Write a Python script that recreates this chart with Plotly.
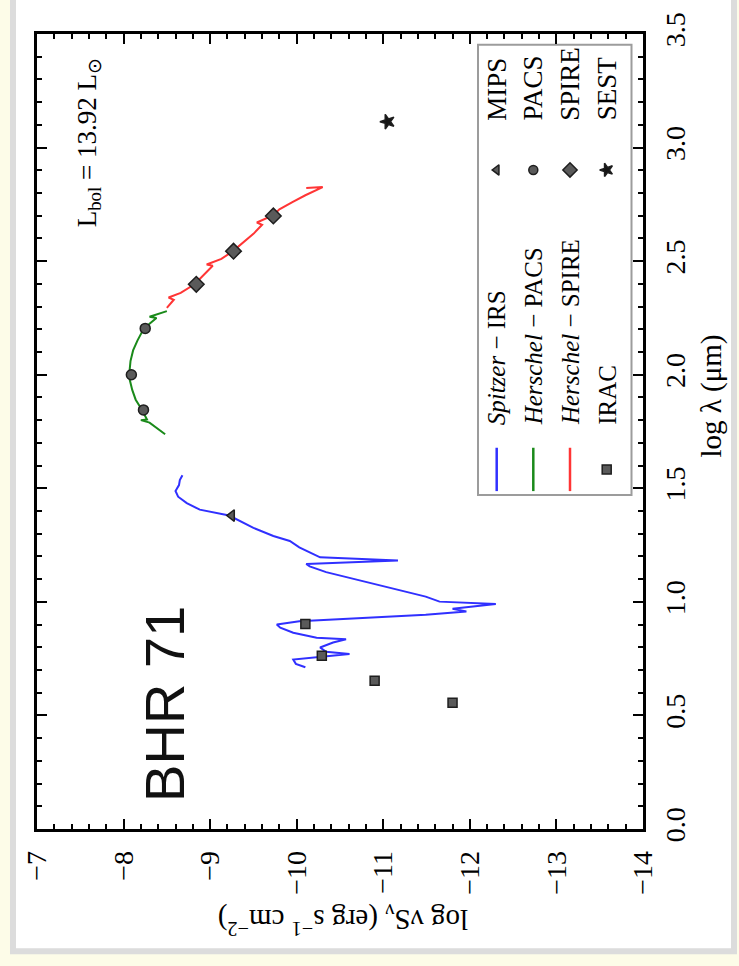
import plotly.graph_objects as go

# ---- spectral energy distribution of BHR 71 ----
# Spitzer IRS spectrum: log wavelength (um) and log nu*S_nu (erg s^-1 cm^-2)
irs_loglam = [0.712, 0.727, 0.746, 0.755, 0.770, 0.780, 0.799, 0.821, 0.835, 0.842,
              0.864, 0.886, 0.900, 0.915, 0.929, 0.943, 0.958, 0.970, 0.991, 1.001,
              1.023, 1.037, 1.059, 1.081, 1.102, 1.131, 1.156, 1.167, 1.182, 1.196,
              1.218, 1.240, 1.268, 1.290, 1.326, 1.362, 1.380, 1.406, 1.435, 1.463,
              1.488, 1.514, 1.536, 1.557]
irs_flux = [-10.10, -9.99, -9.96, -10.19, -10.61, -10.34, -10.27, -10.42, -10.57, -10.23,
            -9.96, -9.81, -9.77, -10.03, -10.80, -11.49, -11.96, -11.80, -12.30, -11.65,
            -11.49, -11.34, -11.11, -10.88, -10.65, -10.34, -10.15, -10.11, -11.17, -10.27,
            -10.15, -10.03, -9.92, -9.73, -9.50, -9.30, -9.22, -8.88, -8.73, -8.63,
            -8.60, -8.64, -8.65, -8.68]

# Herschel PACS spectrum
pacs_loglam = [1.738, 1.760, 1.789, 1.800, 1.803, 1.847, 1.890, 1.933, 1.980, 2.020,
               2.060, 2.107, 2.150, 2.193, 2.225, 2.250, 2.255, 2.280]
pacs_flux = [-8.48, -8.40, -8.30, -8.20, -8.27, -8.21, -8.14, -8.10, -8.07, -8.07,
             -8.08, -8.11, -8.16, -8.22, -8.30, -8.38, -8.30, -8.50]

# Herschel SPIRE spectrum
spire_loglam = [2.294, 2.330, 2.340, 2.360, 2.398, 2.440, 2.480, 2.485, 2.510, 2.543,
                2.580, 2.620, 2.660, 2.670, 2.702, 2.728, 2.760, 2.790, 2.826, 2.822]
spire_flux = [-8.50, -8.58, -8.52, -8.66, -8.82, -8.93, -9.03, -8.96, -9.13, -9.26,
              -9.38, -9.50, -9.60, -9.54, -9.73, -9.80, -9.95, -10.10, -10.30, -10.11]

# Photometry
irac_loglam = [0.556, 0.653, 0.763, 0.903]
irac_flux = [-11.80, -10.90, -10.29, -10.10]
mips_loglam = [1.380]
mips_flux = [-9.25]
pacs_phot_loglam = [1.845, 2.000, 2.204]
pacs_phot_flux = [-8.23, -8.09, -8.25]
spire_phot_loglam = [2.398, 2.544, 2.699]
spire_phot_flux = [-8.84, -9.27, -9.73]
sest_loglam = [3.114]
sest_flux = [-11.05]

lbol_text = "L<sub>bol</sub> = 13.92 L<sub>⊙</sub>"
source_name = "BHR 71"
flux_ticks = [-7, -8, -9, -10, -11, -12, -13, -14]
lam_ticks = [0.0, 0.5, 1.0, 1.5, 2.0, 2.5, 3.0, 3.5]

# ---- page geometry (pixels) ----
W, H = 739, 966
L, R, T, B = 37, 643, 22, 829


def px(x):
    return (x - L) / (R - L)


def py(y):
    return (B - y) / (B - T)


SERIF = "Liberation Serif"
BLUE, GREEN, RED = "#3030ff", "#1a8a1a", "#ff3535"
MFILL, MEDGE = "#5a5a5a", "#1e1e1e"

fig = go.Figure()

# The figure is drawn turned a quarter turn: flux runs horizontally, wavelength vertically.
for lam, flx, col, nm in [(irs_loglam, irs_flux, BLUE, "Spitzer-IRS"),
                          (pacs_loglam, pacs_flux, GREEN, "Herschel-PACS"),
                          (spire_loglam, spire_flux, RED, "Herschel-SPIRE")]:
    fig.add_trace(go.Scatter(x=flx, y=lam, mode="lines", name=nm,
                             line=dict(color=col, width=2)))


def phot(lam, flx, symbol, size, fill=MFILL, angle=0):
    fig.add_trace(go.Scatter(x=flx, y=lam, mode="markers", cliponaxis=False,
                             marker=dict(symbol=symbol, size=size, color=fill, angle=angle,
                                         line=dict(color=MEDGE, width=1.5))))


phot(irac_loglam, irac_flux, "square", 9)
phot(mips_loglam, mips_flux, "triangle-left", 10)
phot(pacs_phot_loglam, pacs_phot_flux, "circle", 10)
phot(spire_phot_loglam, spire_phot_flux, "diamond", 12)
phot(sest_loglam, sest_flux, "star", 11, fill="#151515", angle=-90)

# ---- legend, drawn rotated with the figure ----
shapes = []
# outer page panel
shapes.append(dict(type="rect", xref="paper", yref="paper", layer="below",
                   x0=px(13), x1=px(734), y0=py(953), y1=py(-20),
                   fillcolor="white", line=dict(color="#dcdcdc", width=6)))
shapes.append(dict(type="rect", xref="paper", yref="paper", layer="below",
                   x0=px(478), x1=px(631.5), y0=py(490), y1=py(33),
                   fillcolor="white", line=dict(color="#9c9c9c", width=2)))

col_x = [496.7, 533.3, 570.0, 606.7]
for cx, col in zip(col_x[:3], [BLUE, GREEN, RED]):
    shapes.append(dict(type="line", xref="paper", yref="paper",
                       x0=px(cx), x1=px(cx), y0=py(486), y1=py(442),
                       line=dict(color=col, width=2.5)))

annotations = []
left_labels = ["<i>Spitzer</i> − IRS", "<i>Herschel</i> − PACS",
               "<i>Herschel</i> − SPIRE", "IRAC"]
right_labels = ["MIPS", "PACS", "SPIRE", "SEST"]
for cx, txt in zip(col_x, left_labels):
    annotations.append(dict(xref="paper", yref="paper", x=px(cx), y=py(421),
                            xanchor="center", yanchor="bottom", text=txt, textangle=-90,
                            showarrow=False, font=dict(family=SERIF, size=25, color="black")))
for cx, txt in zip(col_x, right_labels):
    annotations.append(dict(xref="paper", yref="paper", x=px(cx), y=py(112),
                            xanchor="center", yanchor="bottom", text=txt, textangle=-90,
                            showarrow=False, font=dict(family=SERIF, size=27, color="black")))

# legend symbols on a pixel-scaled overlay
leg_sym = [("triangle-left", 9, MFILL, 0), ("circle", 9, MFILL, 0),
           ("diamond", 11, MFILL, 0), ("star", 10, "#151515", -90)]
for cx, (sym, sz, fc, ang) in zip(col_x, leg_sym):
    fig.add_trace(go.Scatter(x=[cx], y=[160], xaxis="x2", yaxis="y2", mode="markers",
                             cliponaxis=False,
                             marker=dict(symbol=sym, size=sz, color=fc, angle=ang,
                                         line=dict(color=MEDGE, width=1.5))))
fig.add_trace(go.Scatter(x=[col_x[3]], y=[464], xaxis="x2", yaxis="y2", mode="markers",
                         cliponaxis=False,
                         marker=dict(symbol="square", size=9, color=MFILL,
                                     line=dict(color=MEDGE, width=1.5))))

# ---- texts ----
def label(x, y, text, size, angle, family=SERIF, color="black"):
    annotations.append(dict(xref="paper", yref="paper", x=px(x), y=py(y), text=text,
                            xanchor="center", yanchor="middle", textangle=angle,
                            showarrow=False, font=dict(family=family, size=size, color=color)))


label(89, 133, lbol_text, 27, -90)
label(165, 702, source_name, 56, -90, family="Liberation Sans", color="#111111")
label(343, 922, "log νS<sub>ν</sub> (erg s<sup>−1</sup> cm<sup>−2</sup>)", 29, 180)
label(712, 390, "log λ (μm)", 29, -90)

axis_common = dict(showline=True, linecolor="black", linewidth=2.5, mirror="allticks",
                   ticks="inside", ticklen=10, tickwidth=2, tickcolor="black",
                   showgrid=False, zeroline=False, tickangle=-90,
                   tickfont=dict(family=SERIF, size=28, color="black"))

fig.update_layout(
    width=W, height=H,
    margin=dict(l=L, r=W - R, t=T, b=H - B),
    paper_bgcolor="#fdfce8", plot_bgcolor="rgba(0,0,0,0)",
    showlegend=False,
    shapes=shapes, annotations=annotations,
    xaxis=dict(range=[-7, -14], tickmode="array", tickvals=flux_ticks,
               minor=dict(ticks="inside", ticklen=5, tickwidth=1.5, tickcolor="black",
                          dtick=0.2, tick0=0),
               ticklabelstandoff=8, **axis_common),
    yaxis=dict(range=[0, 3.5], side="right", tickmode="array", tickvals=lam_ticks,
               ticktext=[f"{v:.1f}" for v in lam_ticks],
               minor=dict(ticks="inside", ticklen=5, tickwidth=1.5, tickcolor="black",
                          dtick=0.1, tick0=0),
               ticklabelstandoff=6, **axis_common),
    xaxis2=dict(overlaying="x", range=[L, R], visible=False),
    yaxis2=dict(overlaying="y", range=[B, T], visible=False),
)

fig.write_html("out.html")
